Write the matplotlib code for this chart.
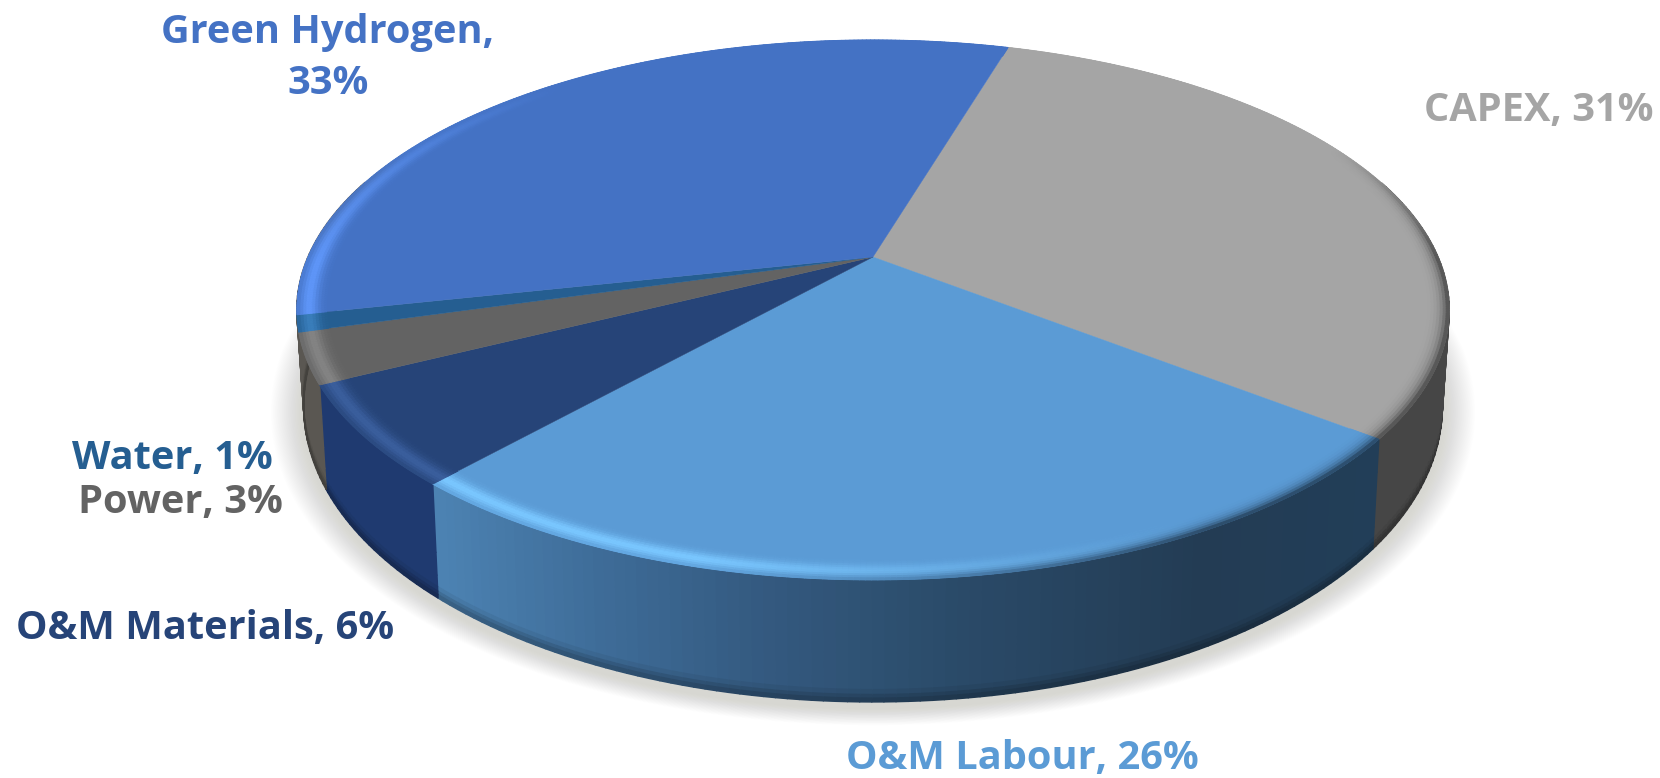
import numpy as np
import matplotlib
matplotlib.use("Agg")
import matplotlib.pyplot as plt
from matplotlib.collections import PolyCollection

# Cost breakdown, listed clockwise from the top of the pie
categories = ["CAPEX", "O&M Labour", "O&M Materials", "Power", "Water", "Green Hydrogen"]
shares = [31, 26, 6, 3, 1, 33]
top_colors = ["#A5A5A5", "#5B9BD5", "#264478", "#636363", "#255E91", "#4472C4"]
side_colors = ["#464646", "#2A4A6A", "#1F3A70", "#5A5752", "#5A5752", "#5A5752"]
label_texts = ["CAPEX, 31%", "O&M Labour, 26%", "O&M Materials, 6%", "Power, 3%", "Water, 1%", "Green Hydrogen,\n33%"]
label_pos = [(1539, 110), (1022, 758), (205, 628), (180, 503), (172, 458), (328, 58)]

FIRST_ANGLE = 16.5
CX, CY = 873.0, 257.0
SX, SY, PERSP = 565.0, 259.6, 0.196

fig = plt.figure(figsize=(16.6, 7.78), dpi=100)
ax = fig.add_axes([0, 0, 1, 1])
ax.set_xlim(0, 1660)
ax.set_ylim(778, 0)
ax.axis("off")


def rgb(c):
    return np.array(matplotlib.colors.to_rgb(c))


def project(theta_deg, r=1.0):
    """Clockwise angle from the top of the disc to perspective screen position."""
    t = np.deg2rad(theta_deg)
    u, v = r * np.sin(t), r * np.cos(t)
    w = 1 + PERSP * v
    return CX + SX * u / w, CY - SY * v / w, v


def lower(x, y, v, z=1.0):
    """Point on the wall, a fraction z of the way down from the top rim."""
    depth = 90 + 32 * np.clip(-v, 0, 1)
    return CX + (x - CX) * (1 - 0.012 * z), y + depth * z


def wall_color(i, x, z):
    if categories[i] == "O&M Labour":
        stops_x = [440, 600, 760, 960, 1200, 1375]
        r = np.interp(x, stops_x, [76, 62, 52, 42, 35, 34])
        g = np.interp(x, stops_x, [130, 108, 90, 74, 60, 62])
        b = np.interp(x, stops_x, [178, 152, 128, 104, 84, 88])
        c = np.array([r, g, b]) / 255
    else:
        c = rgb(side_colors[i])
    return c * (1 - 0.30 * np.clip((z - 0.9) / 0.1, 0, 1))


angles = FIRST_ANGLE + np.concatenate([[0], np.cumsum(shares)]) * 3.6

# Soft shadow falling below the disc
arc = np.linspace(0, 360, 361)
ox, oy, ov = project(arc)
bx, by = lower(ox, oy, ov)
for k in range(24, 0, -1):
    grow = 1 + k * 0.0024
    sx = CX + (bx - CX) * grow
    sy = 400 + (by - 400) * grow + 6
    ax.fill(sx, sy, color="#8a8a80", alpha=0.011, lw=0, zorder=1)

# Wall of the disc, in narrow strips that overlap so no seams show
quads, cols = [], []
zs = np.array([0, .3, .6, .8, .9, .94, .97, 1.0])
for i in range(len(shares)):
    grid = np.arange(angles[i], angles[i + 1] + 0.5, 1.0)
    grid[-1] = angles[i + 1]
    for a0, a1 in zip(grid[:-1], grid[1:]):
        x0, y0, v0 = project(a0)
        x1, y1, v1 = project(a1)
        if min(v0, v1) > 0.3:
            continue
        for z0, z1 in zip(zs[:-1], zs[1:]):
            p0 = lower(x0, y0, v0, z0)
            p1 = lower(x1, y1, v1, z0)
            p2 = lower(x1, y1, v1, z1)
            p3 = lower(x0, y0, v0, z1)
            quads.append([p0, p1, p2, p3])
            cols.append(wall_color(i, (x0 + x1) / 2, (z0 + z1) / 2))
ax.add_collection(PolyCollection(quads, facecolors=cols, edgecolors=cols, linewidths=1.1,
                                 antialiaseds=True, zorder=2))

# Flat top of each slice
for i in range(len(shares)):
    grid = np.linspace(angles[i], angles[i + 1], 200)
    x, y, _ = project(grid)
    ax.fill(np.r_[CX, x], np.r_[CY, y], color=top_colors[i], lw=0.3, zorder=3)

# Bevel along the rim: a lit band towards the front-left, fading into the wall at the edge
quads, cols = [], []
rings = np.linspace(0.95, 1.0, 11)
for i in range(len(shares)):
    grid = np.arange(angles[i], angles[i + 1] + 0.25, 0.5)
    grid[-1] = angles[i + 1]
    face = rgb(top_colors[i])
    for a0, a1 in zip(grid[:-1], grid[1:]):
        mid = ((a0 + a1) / 2) % 360
        light = np.clip((mid - 150) / 45, 0, 1) * np.clip((320 - mid) / 50, 0, 1)
        xm = project(mid)[0]
        edge = wall_color(i, xm, 0.1)
        # the wall is hidden on the far side of the disc
        vm = project(mid)[2]
        fade = np.clip((0.45 - vm) / 0.45, 0, 1) * (1 - light)
        for r0, r1 in zip(rings[:-1], rings[1:]):
            rm = (r0 + r1) / 2
            s = (rm - 0.95) / 0.05
            hi = light * np.exp(-((s - 0.6) / 0.32) ** 2)
            lit = np.clip(face * 1.2 + 0.05, 0, 1)
            c = face + (lit - face) * hi
            c = c + (edge - c) * fade * s ** 4
            pts = [project(a0, r0)[:2], project(a1, r0)[:2], project(a1, r1)[:2], project(a0, r1)[:2]]
            quads.append(pts)
            cols.append(np.clip(c, 0, 1))
ax.add_collection(PolyCollection(quads, facecolors=cols, edgecolors=cols, linewidths=0.7, zorder=4))

# Slice labels in the colour of their slice
for i, (txt, pos) in enumerate(zip(label_texts, label_pos)):
    ax.text(pos[0], pos[1], txt, color=top_colors[i], family="Open Sans", fontweight="bold",
            fontsize=28.6, ha="center", va="center", linespacing=1.42, zorder=6)

fig.savefig("out.png", dpi=100, facecolor="white")
